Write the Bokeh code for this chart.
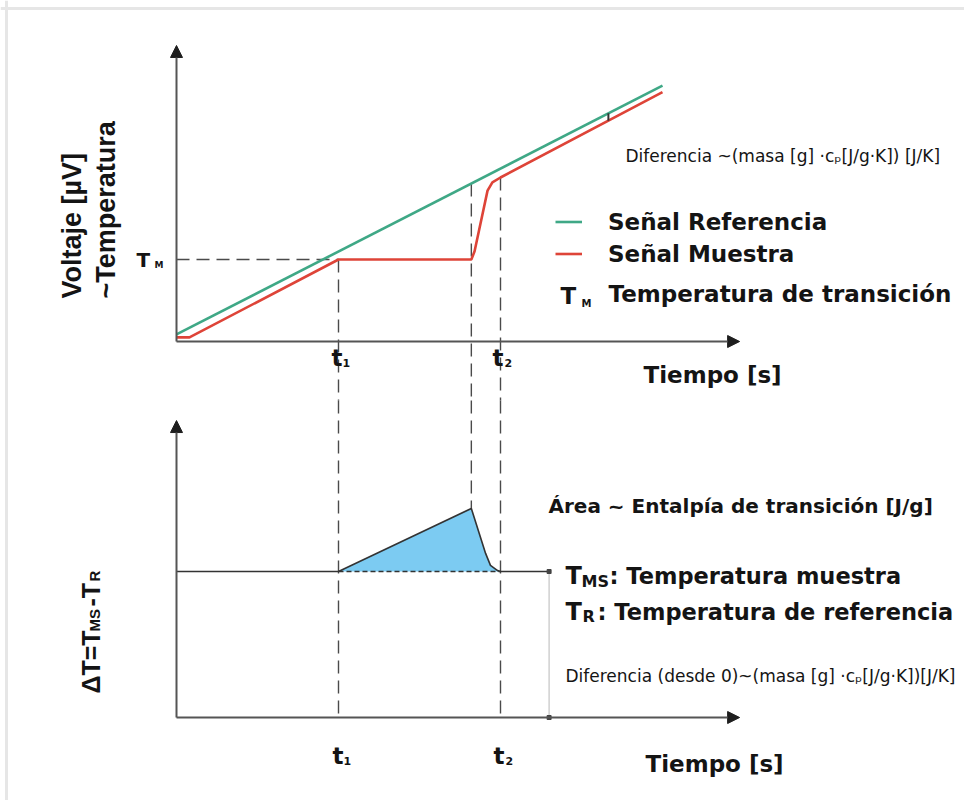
import math
import numpy as np
from bokeh.plotting import figure
from bokeh.models import Range1d, Arrow, NormalHead, Label, Legend, LegendItem, Span
from bokeh.embed import file_html
from bokeh.resources import INLINE

# ---------------- data: schematic DSC measurement ----------------
# Upper panel: signal (~temperature) of reference and sample versus time [s]
ref_time = [0.0, 15.0]
ref_signal = [4.3, 156.0]
sample_time = [0.0, 0.4, 5.0, 9.1, 9.2, 9.6, 9.75, 10.0, 15.0]
sample_signal = [2.5, 2.5, 50.0, 50.0, 55.0, 92.0, 97.0, 100.0, 152.0]

T_M = 50.0          # transition temperature (plateau of the sample)
t1 = 5.0            # start of transition
t_onset = 9.1       # end of plateau
t2 = 10.0           # end of transition
diff_mark_t = 13.33  # where the offset between both signals is marked

# Lower panel: dT = T_MS - T_R versus time [s]
dsc_time = [0.0, 5.0, 9.1, 9.54, 9.69, 9.91, 10.0, 11.5]
dsc_delta = [5.0, 5.0, 7.16, 5.62, 5.21, 5.03, 5.0, 5.0]
baseline_level = 5.0

# axis extents (data units)
time_axis_end = 17.38
top_axis_end = 180.5
bottom_axis_end = 10.17

# ---------------- layout ----------------
W, H = 964, 800
X0_PX, PX_PER_S = 176.0, 32.4
TOP_Y0_PX, PX_PER_UNIT = 341.0, 1.64
BOT_Y0_PX, PX_PER_DT = 717.0, 29.2
SPLIT_PX = 400.0  # where the guide lines pass from one panel to the other


def sx(px):
    return (px - X0_PX) / PX_PER_S


def ty(py):
    return (TOP_Y0_PX - py) / PX_PER_UNIT


def by(py):
    return (BOT_Y0_PX - py) / PX_PER_DT


GREEN = "#3fa886"
RED = "#de4438"
BLUE = "#7ccbf2"
AXIS = "#555555"
GUIDE = "#4a4a4a"
TEXT = "#141414"
SANS = "DejaVu Sans"
ARIAL = "Liberation Sans"

p = figure(width=W, height=H,
           x_range=Range1d(sx(0), sx(W)),
           y_range=Range1d(ty(H), ty(0)),
           output_backend="svg", toolbar_location=None,
           min_border=0, x_axis_location=None, y_axis_location=None,
           outline_line_color=None, background_fill_color="white",
           border_fill_color="white")
p.extra_y_ranges = {"dt": Range1d(by(H), by(0))}
p.grid.visible = False

# light frame along the top and left edges
p.add_layout(Span(location=sx(6), dimension="height", line_color="#e6e6e6", line_width=3))
p.add_layout(Span(location=ty(8), dimension="width", line_color="#e6e6e6", line_width=3))

# ---------------- guide lines ----------------
dash = "13 7"
onset_top = float(np.interp(t_onset, ref_time, ref_signal))
t2_top = float(np.interp(t2, sample_time, sample_signal))
peak = max(dsc_delta)

p.segment(x0=[0.0], y0=[T_M], x1=[t1], y1=[T_M], line_color=GUIDE, line_width=1.6, line_dash=dash)
p.segment(x0=[t1, t_onset, t2], y0=[T_M, onset_top, t2_top],
          x1=[t1, t_onset, t2], y1=[ty(SPLIT_PX)] * 3,
          line_color=GUIDE, line_width=1.4, line_dash=dash)
p.segment(x0=[t1, t_onset, t2], y0=[by(SPLIT_PX)] * 3,
          x1=[t1, t_onset, t2], y1=[0.0, peak, 0.0],
          line_color=GUIDE, line_width=1.4, line_dash=dash, y_range_name="dt")

# ---------------- axes ----------------
for (xe, ye, rng) in [(0.0, top_axis_end, "default"), (time_axis_end, 0.0, "default"),
                      (0.0, bottom_axis_end, "dt"), (time_axis_end, 0.0, "dt")]:
    p.add_layout(Arrow(end=NormalHead(size=12, fill_color="#1e1e1e", line_color="#1e1e1e"),
                       x_start=0.0, y_start=0.0, x_end=xe, y_end=ye,
                       line_color=AXIS, line_width=2, y_range_name=rng))

# ---------------- upper panel curves ----------------
r_ref = p.line(ref_time, ref_signal, line_color=GREEN, line_width=2.6)
r_sample = p.line(sample_time, sample_signal, line_color=RED, line_width=2.6)

mark_lo = float(np.interp(diff_mark_t, sample_time, sample_signal))
mark_hi = float(np.interp(diff_mark_t, ref_time, ref_signal))
p.segment(x0=[diff_mark_t], y0=[mark_lo], x1=[diff_mark_t], y1=[mark_hi],
          line_color="#333333", line_width=2)

# ---------------- lower panel ----------------
peak_idx = [i for i, t in enumerate(dsc_time) if t1 <= t <= t2]
peak_t = [dsc_time[i] for i in peak_idx]
peak_d = [dsc_delta[i] for i in peak_idx]
p.patch(peak_t, peak_d, fill_color=BLUE, line_color=None, y_range_name="dt")
p.segment(x0=[t1], y0=[baseline_level], x1=[t2], y1=[baseline_level],
          line_color="#333333", line_width=1.3, line_dash="5 3", y_range_name="dt")
p.line(dsc_time, dsc_delta, line_color="#333333", line_width=1.6, y_range_name="dt")

# offset of the baseline from zero
p.segment(x0=[dsc_time[-1]], y0=[0.0], x1=[dsc_time[-1]], y1=[baseline_level],
          line_color="#c4c4c4", line_width=1.2, y_range_name="dt")
p.scatter([dsc_time[-1], dsc_time[-1]], [0.0, baseline_level], marker="square",
          size=4, color="#444444", y_range_name="dt")

# ---------------- legend ----------------
legend = Legend(items=[LegendItem(label="Señal Referencia", renderers=[r_ref]),
                       LegendItem(label="Señal Muestra", renderers=[r_sample])],
                location=(555, H - 267), orientation="vertical",
                padding=0, margin=0, spacing=5,
                glyph_width=27, glyph_height=27, label_height=27, label_standoff=26,
                label_text_font=SANS, label_text_font_size="23px",
                label_text_font_style="bold", label_text_color=TEXT,
                border_line_alpha=0, background_fill_alpha=0)
p.add_layout(legend)


# ---------------- texts ----------------
def add_text(x, y, text, size, font=SANS, bold=True, angle=0.0, rng="default"):
    p.add_layout(Label(x=x, y=y, text=text, text_font=font,
                       text_font_size=f"{size}px",
                       text_font_style="bold" if bold else "normal",
                       angle=angle, text_align="left", text_baseline="alphabetic",
                       text_color=TEXT, y_range_name=rng))


up = math.pi / 2

# upper panel
add_text(sx(71), ty(298), "Voltaje [µV]", 27, font=ARIAL, angle=up)
add_text(sx(105), ty(298), "~Temperatura", 27, font=ARIAL, angle=up)
add_text(sx(136), ty(259), "T", 20)
add_text(sx(154), ty(264), "M", 9)
add_text(sx(331), ty(357), "t", 23)
add_text(sx(342), ty(362), "1", 11)
add_text(sx(492), ty(357), "t", 23)
add_text(sx(504), ty(362), "2", 11)
add_text(sx(643), ty(374), "Tiempo [s]", 23)
add_text(sx(625), ty(155), "Diferencia ~(masa [g] ·cₚ[J/g·K]) [J/K]", 17, bold=False)
add_text(sx(560), ty(295), "T", 23)
add_text(sx(581), ty(303), "M", 10)
add_text(sx(608), ty(293), "Temperatura de transición", 23)

# lower panel
add_text(sx(90), by(693), "ΔT=T", 25, font=ARIAL, angle=up, rng="dt")
add_text(sx(94), by(631), "MS", 15, font=ARIAL, angle=up, rng="dt")
add_text(sx(90), by(606), "-T", 25, font=ARIAL, angle=up, rng="dt")
add_text(sx(94), by(581), "R", 15, font=ARIAL, angle=up, rng="dt")
add_text(sx(332), by(755), "t", 23, rng="dt")
add_text(sx(343), by(760), "1", 11, rng="dt")
add_text(sx(493), by(755), "t", 23, rng="dt")
add_text(sx(505), by(760), "2", 11, rng="dt")
add_text(sx(645), by(763), "Tiempo [s]", 23, rng="dt")
add_text(sx(548), by(505), "Área ~ Entalpía de transición [J/g]", 20, rng="dt")
add_text(sx(565), by(575), "T", 24, rng="dt")
add_text(sx(581), by(581), "MS", 16, rng="dt")
add_text(sx(609), by(575), ": Temperatura muestra", 22.5, rng="dt")
add_text(sx(565), by(611), "T", 24, rng="dt")
add_text(sx(582), by(616), "R", 16, rng="dt")
add_text(sx(597), by(611), ": Temperatura de referencia", 22.5, rng="dt")
add_text(sx(565), by(675), "Diferencia (desde 0)~(masa [g] ·cₚ[J/g·K])[J/K]", 17,
         bold=False, rng="dt")

open("out.html", "w").write(file_html(p, INLINE))
